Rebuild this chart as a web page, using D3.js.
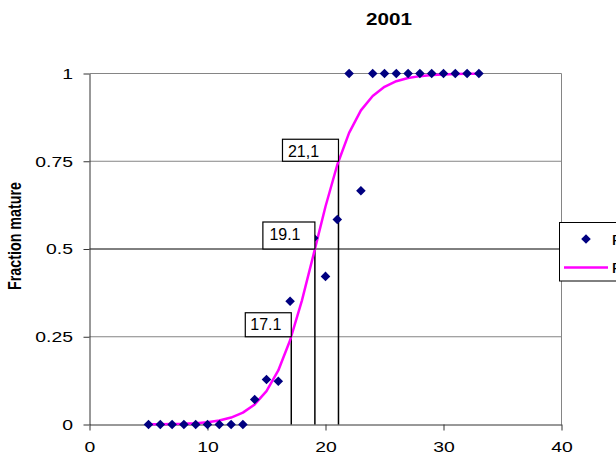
<!DOCTYPE html>
<html>
<head>
<meta charset="utf-8">
<script src="https://cdn.jsdelivr.net/npm/d3@7"></script>
<style>
  html, body { margin: 0; padding: 0; background: #fff; }
  svg { display: block; }
  text { font-family: "Liberation Sans", Arial, sans-serif; fill: #000; }
</style>
</head>
<body>
<svg id="chart" width="616" height="469"></svg>
<script>
// Observed fraction mature by length class
const lengths = [5, 6, 7, 8, 9, 10, 11, 12, 13, 14, 15, 16, 17, 19, 20, 21, 22, 23, 24, 25, 26, 27, 28, 29, 30, 31, 32, 33];
const fractionMature = [0, 0, 0, 0, 0, 0, 0, 0, 0, 0.071, 0.128, 0.123, 0.351, 0.531, 0.422, 0.584, 1, 0.666, 1, 1, 1, 1, 1, 1, 1, 1, 1, 1];

// Fitted maturity ogive, tabulated by length
const fitLengths = [5, 6, 7, 8, 9, 10, 11, 12, 13, 14, 15, 16, 17, 18, 19, 20, 21, 22, 23, 24, 25, 26, 27, 28, 29, 30, 31, 32, 33];
const fitValues = [0.0004, 0.0008, 0.0013, 0.0022, 0.0039, 0.0067, 0.0115, 0.0198, 0.0338, 0.0572, 0.0951, 0.154, 0.240, 0.353, 0.486, 0.621, 0.740, 0.831, 0.895, 0.936, 0.962, 0.978, 0.987, 0.9925, 0.9957, 0.9975, 0.9986, 0.9992, 0.9995];

// Lengths at 25 %, 50 % and 75 % maturity
const markLengths = [17.1, 19.1, 21.1];
const markLevels = [0.25, 0.5, 0.75];
const markLabels = ["17.1", "19.1", "21,1"];

const xTicks = [0, 10, 20, 30, 40];
const yTicks = [0, 0.25, 0.5, 0.75, 1];
const yTickLabels = ["0", "0.25", "0.5", "0.75", "1"];

const seriesNames = ["Fraction mature", "Fitted"];
const title = "2001";
const yTitle = "Fraction mature";

// ---- layout ----
const svg = d3.select("#chart");
const x = d3.scaleLinear().domain([0, 40]).range([89.5, 561.5]);
const y = d3.scaleLinear().domain([0, 1]).range([424.5, 73.5]);
const STRETCH = 1.25;            // chart text is drawn horizontally widened
const markBoxes = [              // label box geometry: width, height, text inset, baseline lift
  { w: 46, h: 24, pad: 5, lift: 6.5 },
  { w: 52, h: 27, pad: 6.5, lift: 9 },
  { w: 56, h: 22, pad: 5.5, lift: 4.5 }
];

// horizontal gridlines
svg.append("g")
  .selectAll("line")
  .data(yTicks.filter(d => d > 0))
  .join("line")
  .attr("x1", x(0)).attr("x2", x(40))
  .attr("y1", d => y(d)).attr("y2", d => y(d))
  .attr("stroke", d => d === 0.5 ? "#000" : "#858585")
  .attr("stroke-width", 1);

// right border of plot area
svg.append("line")
  .attr("x1", x(40)).attr("x2", x(40))
  .attr("y1", y(1)).attr("y2", y(0))
  .attr("stroke", "#858585");

// x axis
const xAxis = svg.append("g")
  .attr("transform", `translate(0,${y(0)})`)
  .call(d3.axisBottom(x).tickValues(xTicks).tickFormat(d3.format("d")).tickSizeInner(6).tickSizeOuter(0));
xAxis.select(".domain").attr("stroke", "#333");
xAxis.selectAll(".tick line").attr("stroke", "#333");
xAxis.selectAll(".tick text")
  .attr("font-size", 15.5)
  .attr("font-family", "Liberation Sans, Arial, sans-serif")
  .attr("y", 17)
  .attr("dy", "0.71em")
  .attr("transform", `scale(${STRETCH},1)`);

// y axis
const yAxis = svg.append("g")
  .attr("transform", `translate(${x(0)},0)`)
  .call(d3.axisLeft(y).tickValues(yTicks).tickFormat((d, i) => yTickLabels[i]).tickSizeInner(6).tickSizeOuter(0));
yAxis.select(".domain").attr("stroke", "#333");
yAxis.selectAll(".tick line").attr("stroke", "#333");
yAxis.selectAll(".tick text")
  .attr("font-size", 15.5)
  .attr("font-family", "Liberation Sans, Arial, sans-serif")
  .attr("x", -16.5 / STRETCH)
  .attr("transform", `scale(${STRETCH},1)`);

// drop lines from each maturity level to the x axis
svg.append("g")
  .selectAll("line")
  .data(markLengths)
  .join("line")
  .attr("x1", d => x(d)).attr("x2", d => x(d))
  .attr("y1", (d, i) => y(markLevels[i])).attr("y2", y(0))
  .attr("stroke", "#000")
  .attr("stroke-width", 1.5);

// fitted curve
const line = d3.line().x((d, i) => x(fitLengths[i])).y(d => y(d));
svg.append("path")
  .datum(fitValues)
  .attr("d", line)
  .attr("fill", "none")
  .attr("stroke", "#ff00ff")
  .attr("stroke-width", 2.5)
  .attr("stroke-linejoin", "round");

// observed points
const diamond = d3.symbol(d3.symbolSquare, 46);
svg.append("g")
  .selectAll("path")
  .data(fractionMature)
  .join("path")
  .attr("d", diamond)
  .attr("transform", (d, i) => `translate(${x(lengths[i])},${y(d)}) rotate(45)`)
  .attr("fill", "#000080");

// value boxes anchored at the curve crossings
const marks = svg.append("g")
  .selectAll("g")
  .data(markLengths)
  .join("g");
marks.append("rect")
  .attr("x", (d, i) => x(d) - markBoxes[i].w)
  .attr("y", (d, i) => y(markLevels[i]) - markBoxes[i].h)
  .attr("width", (d, i) => markBoxes[i].w)
  .attr("height", (d, i) => markBoxes[i].h)
  .attr("fill", "#fff")
  .attr("stroke", "#000")
  .attr("stroke-width", 1.2);
marks.append("text")
  .attr("x", (d, i) => x(d) - markBoxes[i].w + markBoxes[i].pad)
  .attr("y", (d, i) => y(markLevels[i]) - markBoxes[i].lift)
  .attr("font-size", 16)
  .text((d, i) => markLabels[i]);

// title
svg.append("text")
  .attr("transform", `translate(389,25) scale(${STRETCH},1)`)
  .attr("text-anchor", "middle")
  .attr("font-size", 16.5)
  .attr("font-weight", "bold")
  .text(title);

// y axis title
svg.append("text")
  .attr("transform", `translate(21,236) scale(${STRETCH + 0.05},1) rotate(-90)`)
  .attr("text-anchor", "middle")
  .attr("font-size", 14.3)
  .attr("font-weight", "bold")
  .text(yTitle);

// legend
const legend = svg.append("g");
legend.append("rect")
  .attr("x", 559.5).attr("y", 222.5)
  .attr("width", 80).attr("height", 58.5)
  .attr("fill", "#fff")
  .attr("stroke", "#000");
legend.append("path")
  .attr("d", diamond)
  .attr("transform", "translate(586,239) rotate(45)")
  .attr("fill", "#000080");
legend.append("line")
  .attr("x1", 564).attr("x2", 608)
  .attr("y1", 267.5).attr("y2", 267.5)
  .attr("stroke", "#ff00ff")
  .attr("stroke-width", 2.5);
legend.selectAll("text.lg")
  .data(seriesNames)
  .join("text")
  .attr("class", "lg")
  .attr("transform", (d, i) => `translate(611.5,${244.5 + i * 28.5}) scale(${STRETCH},1)`)
  .attr("font-size", 15.5)
  .text(d => d);
</script>
</body>
</html>
